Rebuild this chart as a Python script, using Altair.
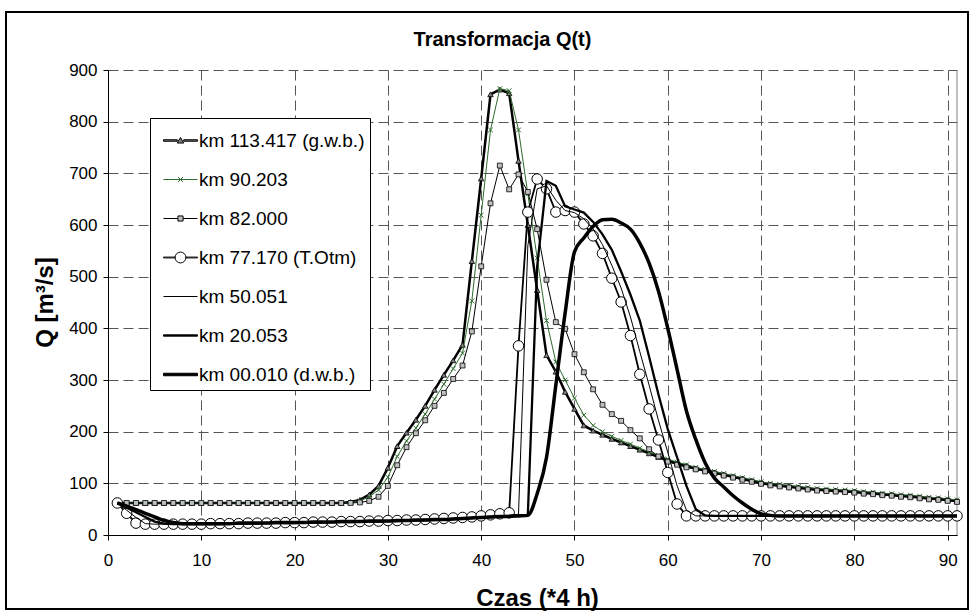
import altair as alt
import pandas as pd

FONT = "Liberation Sans"

# ---------------- data ----------------
t_steps = list(range(1, 92))

series_names = [
    "km 113.417 (g.w.b.)",
    "km 90.203",
    "km 82.000",
    "km 77.170 (T.Otm)",
    "km 50.051",
    "km 20.053",
    "km 00.010 (d.w.b.)",
]

q_km113 = [
    62, 62, 62, 62, 62, 62, 62, 62, 62, 62,
    62, 62, 62, 62, 62, 62, 62, 62, 62, 62,
    62, 62, 62, 62, 62, 64, 68, 78, 95, 130,
    172, 198, 223, 250, 281, 310, 338, 368, 530, 690,
    853, 862, 855, 724, 600, 474, 348, 316, 277, 244,
    212, 202, 194, 186, 179, 172, 165, 158, 151, 144,
    139, 134, 129, 125, 121, 117, 113, 109, 105, 101,
    98, 96, 94, 92, 90, 88, 87, 86, 85, 84,
    82, 81, 79, 78, 76, 75, 73, 71, 70, 68,
    66,
]
q_km90 = [
    62, 62, 62, 62, 62, 62, 62, 62, 62, 62,
    62, 62, 62, 62, 62, 62, 62, 62, 62, 62,
    62, 62, 62, 62, 62, 63, 66, 74, 87, 112,
    152, 182, 207, 234, 263, 292, 322, 352, 453, 619,
    784, 864, 860, 784, 660, 536, 415, 335, 300, 265,
    232, 212, 200, 191, 183, 176, 168, 161, 154, 147,
    141, 136, 131, 127, 123, 119, 115, 111, 107, 103,
    100, 98, 96, 94, 92, 90, 89, 88, 87, 86,
    84, 83, 81, 80, 78, 77, 75, 73, 72, 70,
    68,
]
q_km82 = [
    62, 62, 62, 62, 62, 62, 62, 62, 62, 62,
    62, 62, 62, 62, 62, 62, 62, 62, 62, 62,
    62, 62, 62, 62, 62, 62, 63, 66, 74, 95,
    135, 170, 197, 222, 250, 275, 302, 328, 394, 520,
    642, 715, 669, 698, 664, 592, 494, 412, 399, 350,
    315, 282, 252, 234, 221, 203, 187, 166, 152, 142,
    136, 131, 127, 123, 119, 115, 111, 107, 103, 99,
    96, 94, 92, 90, 88, 86, 85, 84, 83, 82,
    80, 79, 77, 76, 74, 73, 71, 69, 68, 66,
    64,
]
q_km77 = [
    62, 42, 23, 21, 21, 21, 21, 21, 21, 21,
    22, 22, 22, 22, 23, 23, 23, 23, 24, 24,
    24, 25, 25, 25, 26, 26, 26, 27, 27, 28,
    28, 29, 29, 30, 31, 32, 33, 34, 35, 37,
    39, 41, 43, 366, 625, 689, 670, 625, 628, 625,
    602, 579, 545, 497, 451, 386, 311, 244, 184, 121,
    60, 37, 37, 37, 37, 37, 37, 37, 37, 37,
    37, 37, 37, 37, 37, 37, 37, 37, 37, 37,
    37, 37, 37, 37, 37, 37, 37, 37, 37, 37,
    37,
]
q_km50 = [
    62, 48, 34, 22, 21, 21, 21, 21, 21, 21,
    21, 22, 22, 22, 22, 23, 23, 23, 23, 24,
    24, 24, 25, 25, 25, 26, 26, 26, 27, 27,
    28, 28, 29, 29, 30, 31, 31, 32, 33, 34,
    35, 36, 38, 40, 560, 670, 676, 648, 628, 624,
    612, 592, 562, 522, 478, 422, 355, 290, 222, 160,
    95, 48, 37, 37, 37, 37, 37, 37, 37, 37,
    37, 37, 37, 37, 37, 37, 37, 37, 37, 37,
    37, 37, 37, 37, 37, 37, 37, 37, 37, 37,
    37,
]
q_km20 = [
    62, 53, 44, 35, 26, 22, 21, 21, 21, 21,
    21, 21, 22, 22, 22, 22, 23, 23, 23, 23,
    24, 24, 24, 25, 25, 25, 26, 26, 26, 27,
    27, 28, 28, 29, 29, 30, 31, 32, 33, 34,
    35, 36, 37, 38, 39, 520, 685, 676, 636, 630,
    624, 606, 582, 552, 510, 465, 415, 345, 272, 205,
    150, 95, 50, 38, 37, 37, 37, 37, 37, 37,
    37, 37, 37, 37, 37, 37, 37, 37, 37, 37,
    37, 37, 37, 37, 37, 37, 37, 37, 37, 37,
    37,
]
q_km00 = [
    62, 56, 49, 42, 35, 28, 24, 22, 22, 22,
    22, 22, 22, 23, 23, 23, 23, 24, 24, 24,
    24, 25, 25, 25, 26, 26, 26, 27, 27, 27,
    28, 28, 29, 29, 30, 30, 31, 32, 33, 34,
    35, 36, 36, 37, 38, 80, 150, 290, 430, 548,
    575, 597, 610, 611, 604, 592, 565, 526, 472, 400,
    320, 240, 185, 140, 110, 93, 76, 62, 50, 41,
    38, 37, 37, 37, 37, 37, 37, 37, 37, 37,
    37, 37, 37, 37, 37, 37, 37, 37, 37, 37,
    37,
]

x_ticks = [0, 10, 20, 30, 40, 50, 60, 70, 80, 90]
y_ticks = [0, 100, 200, 300, 400, 500, 600, 700, 800, 900]

all_q = [q_km113, q_km90, q_km82, q_km77, q_km50, q_km20, q_km00]
rows = []
for name, vals in zip(series_names, all_q):
    assert len(vals) == len(t_steps)
    for t, q in zip(t_steps, vals):
        rows.append({"series": name, "t": t, "q": q})
df = pd.DataFrame(rows)

GREEN = "#2e6b2e"

# ---------------- encodings ----------------
x_enc = alt.X(
    "t:Q",
    scale=alt.Scale(domain=[0, 91], nice=False, zero=False),
    axis=alt.Axis(
        values=x_ticks, title="Czas (*4 h)", grid=True,
        gridColor="#555555", gridDash=[10, 5], gridWidth=1,
        domainColor="black", domainWidth=1, tickColor="black", tickSize=5, tickWidth=1,
        labelFont=FONT, labelFontSize=17, labelColor="black", labelPadding=12,
        labelFlush=False,
        titleFont=FONT, titleFontSize=24, titleFontWeight="bold", titleColor="black",
        titleX=429, titleY=63, titleAlign="center", titleBaseline="middle",
    ),
)
y_enc = alt.Y(
    "q:Q",
    scale=alt.Scale(domain=[0, 900], nice=False),
    axis=alt.Axis(
        values=y_ticks, title="Q [m³/s]", grid=True,
        gridColor="#555555", gridDash=[10, 5], gridWidth=1,
        domainColor="black", domainWidth=1, tickColor="black", tickSize=5, tickWidth=1,
        labelFont=FONT, labelFontSize=17, labelColor="black", labelPadding=6,
        titleFont=FONT, titleFontSize=24, titleFontWeight="bold", titleColor="black",
        titleAngle=270, titleX=-63, titleY=232, titleAlign="center", titleBaseline="middle",
    ),
)

base = alt.Chart(df)


def sel(name):
    return base.transform_filter(alt.datum.series == name)


def line(name, color, width, interp="linear"):
    return sel(name).mark_line(color=color, strokeWidth=width, interpolate=interp).encode(x=x_enc, y=y_enc)


X_PATH = "M-1,-1L1,1M-1,1L1,-1"

layers = [
    line(series_names[0], "black", 2.5),
    sel(series_names[0]).mark_point(shape="triangle-up", size=30, filled=True, fill="#808080",
                                    stroke="black", strokeWidth=0.8, opacity=1).encode(x=x_enc, y=y_enc),
    line(series_names[1], GREEN, 1),
    sel(series_names[1]).mark_point(shape=X_PATH, size=22, filled=False, stroke=GREEN,
                                    strokeWidth=1, opacity=1).encode(x=x_enc, y=y_enc),
    line(series_names[2], "black", 1),
    sel(series_names[2]).mark_point(shape="square", size=24, filled=True, fill="#c0c0c0",
                                    stroke="black", strokeWidth=0.8, opacity=1).encode(x=x_enc, y=y_enc),
    line(series_names[3], "black", 1.8),
    sel(series_names[3]).mark_point(shape="circle", size=110, filled=True, fill="white",
                                    stroke="black", strokeWidth=1, opacity=1).encode(x=x_enc, y=y_enc),
    line(series_names[4], "black", 1),
    line(series_names[5], "black", 2.3),
    line(series_names[6], "black", 3.5, "monotone"),
]

# plot-area right border at the end of the time axis
border_df = pd.DataFrame({"t": [91]})
right_border = alt.Chart(border_df).mark_rule(color="#808080", strokeWidth=1).encode(
    x="t:Q", y=alt.datum(0), y2=alt.datum(900)
)

# legend symbols: line + marker drawn as custom paths
legend_paths = [
    "M-1,-0.044H-0.19V0.044H-1Z M0.19,-0.044H1V0.044H0.19Z M-0.19,0.15L0,-0.18L0.19,0.15Z",
    "M-1,0H1M-0.15,-0.15L0.15,0.15M-0.15,0.15L0.15,-0.15",
    "M-1,0H-0.15M0.15,0H1M-0.15,-0.15H0.15V0.15H-0.15Z",
    "M-1,-0.0235H-0.32V0.0235H-1Z M0.32,-0.0235H1V0.0235H0.32Z M0.32,0A0.32,0.32,0,1,1,-0.32,0A0.32,0.32,0,1,1,0.32,0Z",
    "M-1,0H1",
    "M-1,-0.038H1V0.038H-1Z",
    "M-1,-0.0735H1V0.0735H-1Z",
]
legend_strokes = ["black", GREEN, "black", "black", "black", "black", "black"]
legend_fills = ["#808080", "white", "#c0c0c0", "white", "white", "black", "black"]

leg = dict(title=None, symbolFillColor="white", symbolStrokeColor="black")
legend_df = pd.DataFrame({"series": series_names})
legend_layer = alt.Chart(legend_df).mark_point(opacity=0, size=1156, strokeWidth=1).encode(
    x=alt.value(0),
    y=alt.value(0),
    shape=alt.Shape("series:N", scale=alt.Scale(domain=series_names, range=legend_paths),
                    legend=alt.Legend(**leg)),
    stroke=alt.Stroke("series:N", scale=alt.Scale(domain=series_names, range=legend_strokes),
                      legend=alt.Legend(**leg)),
    fill=alt.Fill("series:N", scale=alt.Scale(domain=series_names, range=legend_fills),
                  legend=alt.Legend(**leg)),
)

# outer chart frame
frame = alt.Chart(pd.DataFrame({"k": [0]})).mark_rect(filled=False, stroke="black", strokeWidth=2).encode(
    x=alt.value(-102), x2=alt.value(860), y=alt.value(-58), y2=alt.value(539)
)

chart = alt.layer(right_border, *layers, legend_layer, frame).properties(
    width=849,
    height=465,
    autosize=alt.AutoSizeParams(type="none"),
    padding={"left": 108, "top": 70, "right": 16, "bottom": 78},
    background="white",
    title=alt.Title("Transformacja Q(t)", anchor="middle", dx=-30, offset=-39,
                    fontSize=20, fontWeight="bold", font=FONT, color="black"),
).configure_view(
    stroke="transparent"
).configure_legend(
    orient="none", legendX=42, legendY=48, padding=5,
    fillColor="white", strokeColor="black",
    symbolSize=1156, symbolStrokeWidth=1, symbolOpacity=1,
    symbolFillColor="white", symbolStrokeColor="black",
    labelFont=FONT, labelFontSize=19, labelColor="black", labelLimit=400,
    rowPadding=11, symbolOffset=8, labelOffset=1,
)

chart.save("out.html", embed_options={"renderer": "svg", "actions": False})
